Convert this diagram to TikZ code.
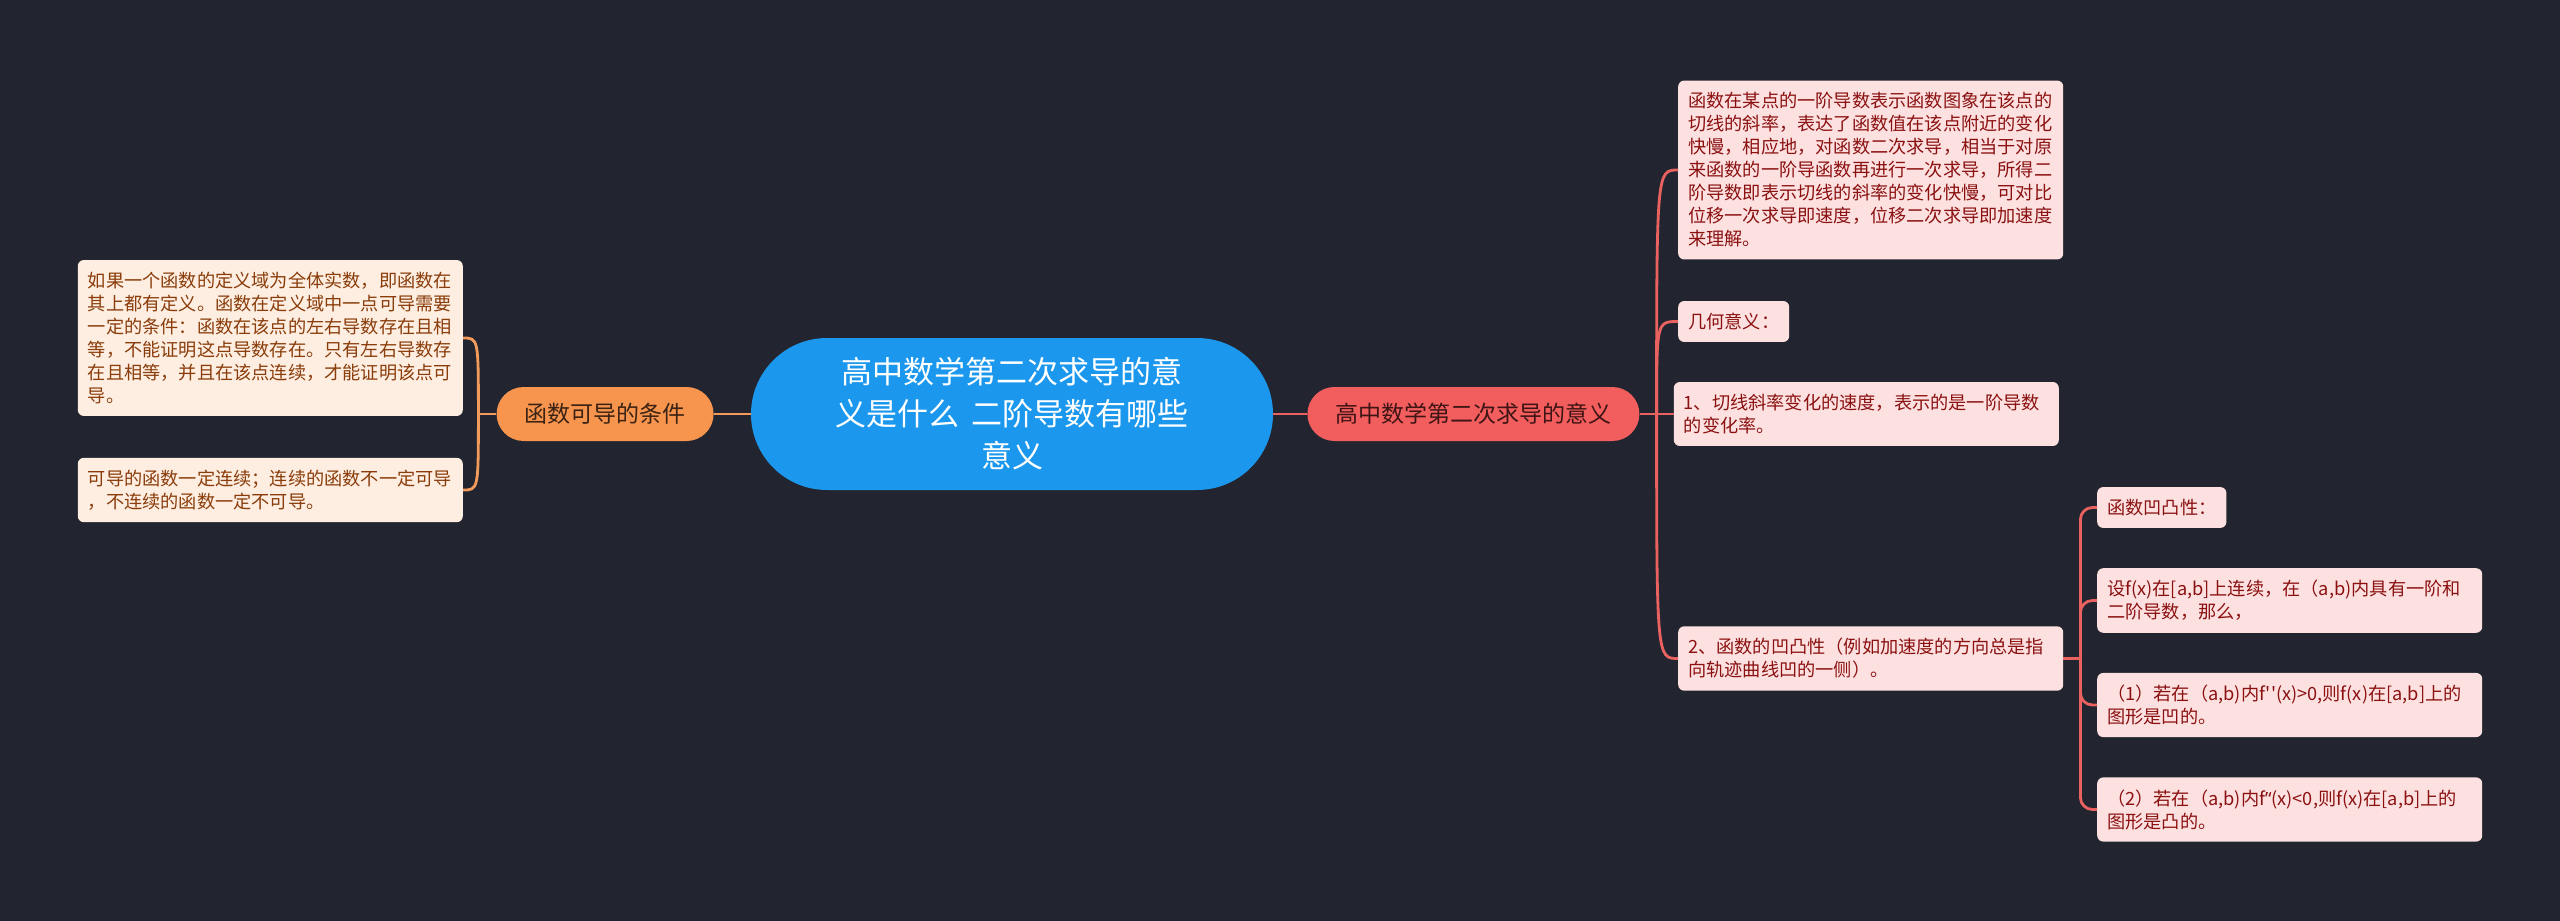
\documentclass[tikz,border=0pt]{standalone}
\usepackage{fontspec}
\usepackage{xcolor}
\usepackage{tikz}
\usetikzlibrary{
    positioning,
    calc
}
\newfontfamily\cjk{Noto Sans CJK SC}
\newfontfamily\latinq{Noto Sans}

\definecolor{canvas}{HTML}{22252F}
\definecolor{rootblue}{HTML}{1B98EE}
\definecolor{condorange}{HTML}{F7954F}
\definecolor{condink}{HTML}{3B2212}
\definecolor{meanred}{HTML}{F25D5D}
\definecolor{meanink}{HTML}{3E1414}
\definecolor{condfill}{HTML}{FDEEE1}
\definecolor{condtext}{HTML}{8A3C0A}
\definecolor{meanfill}{HTML}{FDE1E1}
\definecolor{meantext}{HTML}{8B1111}
\definecolor{condline}{HTML}{F39B5A}
\definecolor{meanline}{HTML}{EA625F}

\begin{document}
\begin{tikzpicture}[
        x=1pt, y=-1pt,
        root/.style={
            rectangle,
            rounded corners=76pt,
            fill=rootblue,
            text=white,
            align=center,
            minimum width=522pt,
            minimum height=152pt,
            font=\cjk\fontsize{31}{42}\selectfont
        },
        topic/.style={
            rectangle,
            rounded corners=27pt,
            inner xsep=28pt,
            minimum height=54pt,
            font=\cjk\fontsize{23}{28}\selectfont
        },
        leaf/.style={
            rectangle,
            rounded corners=6pt,
            align=left,
            inner xsep=10pt,
            inner ysep=12pt,
            font=\cjk\fontsize{18.2}{23}\selectfont
        },
        wideleaf/.style={
            leaf,
            text width=365pt
        },
        cond/.style={fill=condfill, text=condtext},
        mean/.style={fill=meanfill, text=meantext},
        condwire/.style={draw=condline, line width=2.8pt},
        meanwire/.style={draw=meanline, line width=2.8pt}
    ]

    \fill[canvas] (0,0) rectangle (2560,921);
    \useasboundingbox (0,0) rectangle (2560,921);

    \node[root] (root) at (1012,414) {高中数学第二次求导的意\\义是什么\hspace{0.4em}二阶导数有哪些\\意义};
    \node[topic, fill=condorange, text=condink, left=37pt of root] (cond) {函数可导的条件};
    \node[topic, fill=meanred, text=meanink, right=34pt of root] (mean) {高中数学第二次求导的意义};

    \node[wideleaf, cond, anchor=east] (domain) at (463,338) {如果一个函数的定义域为全体实数，即函数在\\其上都有定义。函数在定义域中一点可导需要\\一定的条件：函数在该点的左右导数存在且相\\等，不能证明这点导数存在。只有左右导数存\\在且相等，并且在该点连续，才能证明该点可\\导。};
    \node[wideleaf, cond, anchor=east] (contin) at (463,490) {可导的函数一定连续；连续的函数不一定可导\\，不连续的函数一定不可导。};

    \node[wideleaf, mean, anchor=west] (slope) at (1678,170) {函数在某点的一阶导数表示函数图象在该点的\\切线的斜率，表达了函数值在该点附近的变化\\快慢，相应地，对函数二次求导，相当于对原\\来函数的一阶导函数再进行一次求导，所得二\\阶导数即表示切线的斜率的变化快慢，可对比\\位移一次求导即速度，位移二次求导即加速度\\来理解。};
    \node[leaf, mean, anchor=west] (geom) at (1678,321.5) {几何意义：};
    \node[wideleaf, mean, right=34pt of mean] (rate) {1、切线斜率变化的速度，表示的是一阶导数\\的变化率。};
    \node[wideleaf, mean, anchor=west] (convex) at (1678,658.5) {2、函数的凹凸性（例如加速度的方向总是指\\向轨迹曲线凹的一侧）。};

    \node[leaf, mean, anchor=west] (convtitle) at (2097,507.5) {函数凹凸性：};
    \node[wideleaf, mean, anchor=west] (convset) at (2097,600.5) {设f(x)在[a,b]上连续，在（a,b)内具有一阶和\\二阶导数，那么，};
    \node[wideleaf, mean, anchor=west] (concave) at (2097,705) {（1）若在（a,b)内f''(x)>0,则f(x)在[a,b]上的\\图形是凹的。};
    \node[wideleaf, mean, anchor=west] (convdown) at (2097,809.5) {（2）若在（a,b)内f{\latinq ’‘}(x)<0,则f(x)在[a,b]上的\\图形是凸的。};

    \coordinate (lfork) at ($(cond.west)+(-18,0)$);
    \coordinate (rfork) at ($(mean.east)+(17,0)$);
    \coordinate (cfork) at ($(convex.east)+(17,0)$);

    \draw[condwire] (root.west) -- (cond.east);
    \draw[condwire] (cond.west) -- (lfork);
    \foreach \leafname in {domain, contin}
        \draw[condwire] (lfork) .. controls (lfork |- \leafname.east) .. (\leafname.east);

    \draw[meanwire] (root.east) -- (mean.west);
    \draw[meanwire] (mean.east) -- (rate.west);
    \foreach \leafname in {slope, geom, convex}
        \draw[meanwire] (rfork) .. controls (rfork |- \leafname.west) .. (\leafname.west);

    \draw[meanwire] (convex.east) -- (cfork);
    \foreach \leafname in {convtitle, convset, concave, convdown}
        \draw[meanwire, rounded corners=12pt] (cfork) |- (\leafname.west);

\end{tikzpicture}
\end{document}
